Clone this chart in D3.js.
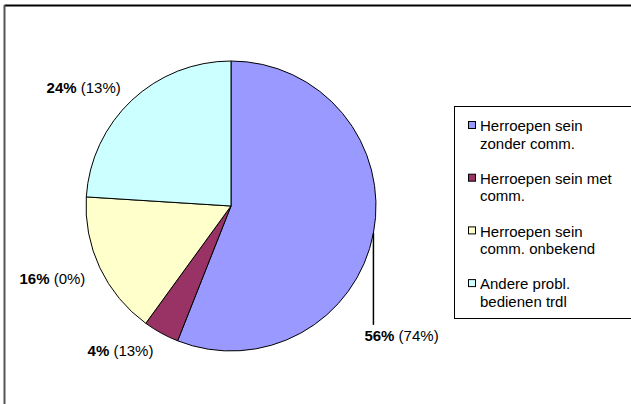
<!DOCTYPE html>
<html>
<head>
<meta charset="utf-8">
<script src="https://cdn.jsdelivr.net/npm/d3@7"></script>
<style>
  body { margin: 0; background: #fff; }
  svg { display: block; font-family: "Liberation Sans", Arial, sans-serif; }
</style>
</head>
<body>
<svg id="chart"></svg>
<script>
// slice data, clockwise from 12 o'clock
const categories = [
  "Herroepen sein zonder comm.",
  "Herroepen sein met comm.",
  "Herroepen sein comm. onbekend",
  "Andere probl. bedienen trdl"
];
const shares = [56, 4, 16, 24];
const otherShares = [74, 13, 0, 13];
const colors = ["#9999FF", "#993366", "#FFFFCC", "#CCFFFF"];

const WIDTH = 631;
const HEIGHT = 404;

let svg = d3.select("#chart")
  .attr("width", WIDTH)
  .attr("height", HEIGHT);

svg.append("rect")
  .attr("width", WIDTH)
  .attr("height", HEIGHT)
  .style("fill", "#fff");

// chart area border (cropped on the right/bottom)
svg.append("line")
  .attr("x1", 4.5).attr("x2", WIDTH)
  .attr("y1", 5.5).attr("y2", 5.5)
  .style("stroke", "#000")
  .style("stroke-width", 2);

svg.append("line")
  .attr("x1", 4.5).attr("x2", 4.5)
  .attr("y1", 5).attr("y2", HEIGHT)
  .style("stroke", "#555")
  .style("stroke-width", 2);

// pie
const cx = 231, cy = 206, R = 145;

let pie = d3.pie()
  .sort(null)
  .value(d => d);

let arcs = pie(shares);

let arc = d3.arc()
  .innerRadius(0)
  .outerRadius(R);

let g = svg.append("g")
  .attr("transform", "translate(" + cx + "," + cy + ")");

g.selectAll(".slice")
  .data(arcs)
.enter().append("path")
  .attr("class", "slice")
  .attr("d", arc)
  .style("fill", (d, i) => colors[i])
  .style("stroke", "#000")
  .style("stroke-width", 1);

// labels
function pointAt(angle, r) {
  return [Math.sin(angle) * r, -Math.cos(angle) * r];
}

arcs.forEach((d, i) => {
  let mid = (d.startAngle + d.endAngle) / 2;
  let label = g.append("text")
    .style("font-size", "15px")
    .style("fill", "#000");

  if (i === 0) {
    // long leader line going straight down
    let p = pointAt(mid, R);
    let yEnd = R * 0.82;
    g.append("line")
      .attr("x1", p[0]).attr("x2", p[0])
      .attr("y1", p[1]).attr("y2", yEnd)
      .style("stroke", "#000")
      .style("stroke-width", 1.5);
    label.attr("x", p[0] - 9)
      .attr("y", yEnd + 16)
      .attr("text-anchor", "start");
  } else {
    let p = pointAt(mid, R + 16);
    // top-left label sits a little higher
    let dy = p[1] < 0 ? 4 : 9;
    label.attr("x", p[0])
      .attr("y", p[1] + dy)
      .attr("text-anchor", "end");
  }

  label.append("tspan")
    .style("font-weight", "bold")
    .text(shares[i] + "%");
  label.append("tspan")
    .text(" (" + otherShares[i] + "%)");
});

// legend
const legX = 454.5, legY = 106.5, legBottom = 318.5;

svg.append("rect")
  .attr("x", legX)
  .attr("y", legY)
  .attr("width", WIDTH - legX + 5)
  .attr("height", legBottom - legY)
  .style("fill", "#fff")
  .style("stroke", "#000")
  .style("stroke-width", 1);

let legend = svg.append("g");
const itemTop = 126, itemStep = 52.7, lineH = 17.5, maxW = 145;

categories.forEach((name, i) => {
  let yc = itemTop + i * itemStep;
  legend.append("rect")
    .attr("x", 468.5)
    .attr("y", yc - 4.5)
    .attr("width", 7)
    .attr("height", 7)
    .style("fill", colors[i])
    .style("stroke", "#000")
    .style("stroke-width", 1);

  let t = legend.append("text")
    .style("font-size", "15px")
    .style("fill", "#000");

  // simple word wrap
  let words = name.split(" ");
  let line = [];
  let lineNo = 0;
  let newLine = () => t.append("tspan")
    .attr("x", 480)
    .attr("y", yc + lineNo * lineH)
    .attr("dy", "0.35em");
  let tspan = newLine();
  words.forEach(w => {
    line.push(w);
    tspan.text(line.join(" "));
    if (tspan.node().getComputedTextLength() > maxW && line.length > 1) {
      line.pop();
      tspan.text(line.join(" "));
      line = [w];
      lineNo++;
      tspan = newLine().text(w);
    }
  });
});
</script>
</body>
</html>
